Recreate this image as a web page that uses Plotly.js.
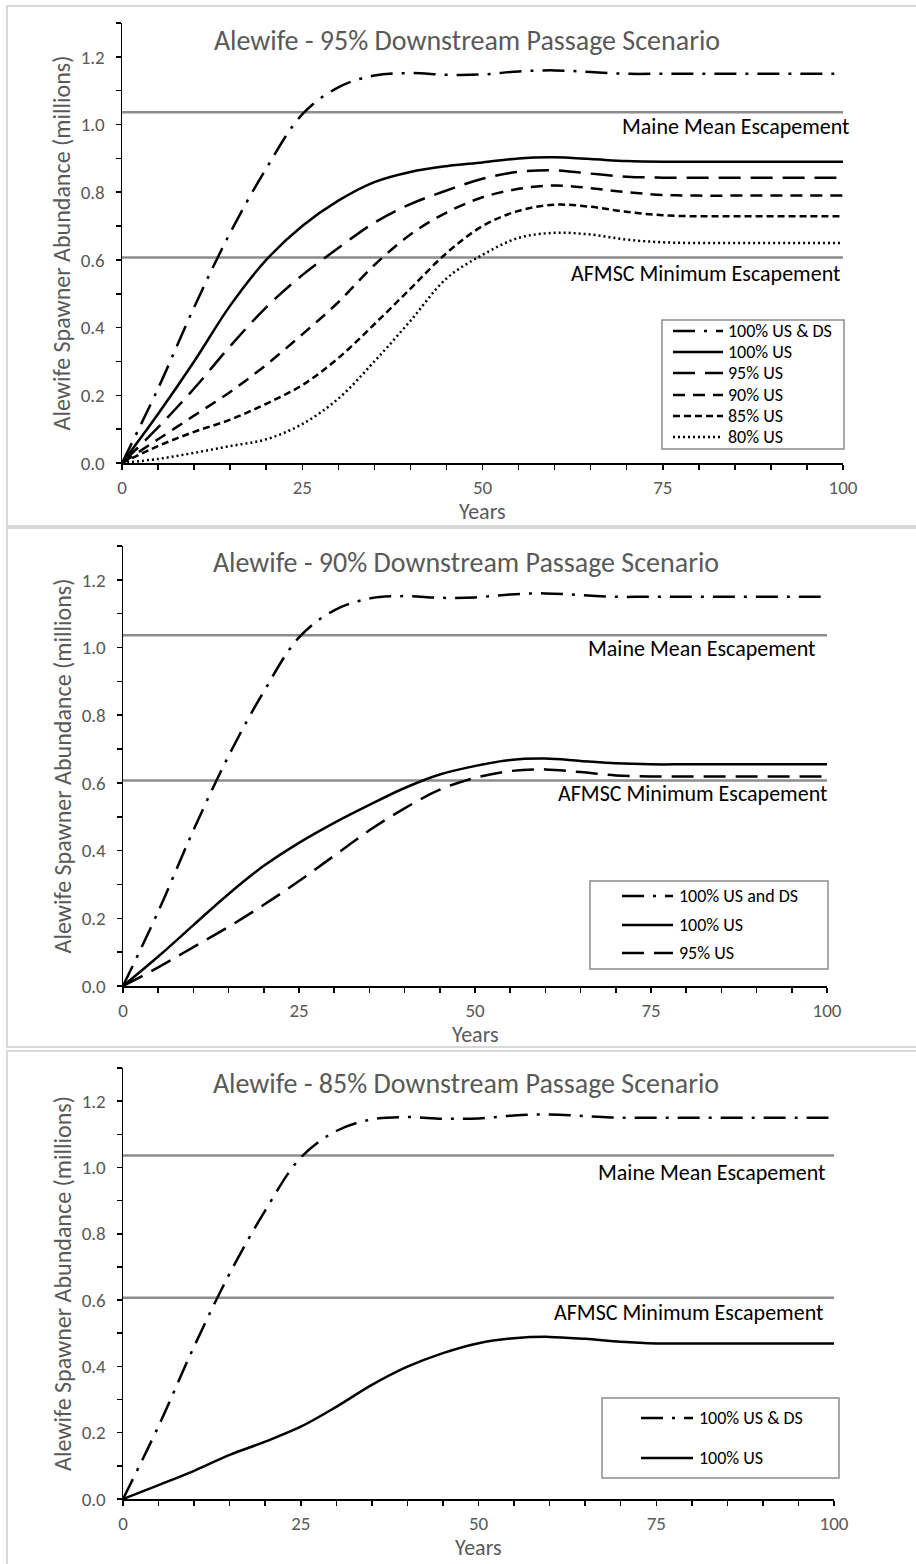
<!DOCTYPE html>
<html><head><meta charset="utf-8">
<script src="https://cdn.plot.ly/plotly-3.0.1.min.js"></script>
<style>
html,body{margin:0;padding:0;background:#fff;}
body{width:916px;height:1564px;overflow:hidden;position:relative;}
.frame{position:absolute;border:2px solid #d9d9d9;box-sizing:border-box;pointer-events:none;z-index:5;}
.plot{position:absolute;left:0;width:916px;}
</style></head><body>
<div class="plot" id="p1" style="top:0px;height:527px"></div>
<div class="plot" id="p2" style="top:527px;height:521px"></div>
<div class="plot" id="p3" style="top:1048px;height:516px"></div>
<div class="frame" style="left:6px;top:5px;width:930px;height:522px"></div>
<div class="frame" style="left:6px;top:527px;width:930px;height:521px"></div>
<div class="frame" style="left:6px;top:1050px;width:930px;height:530px"></div>
<script>
// ---------- DATA ----------
const years = [0,5,10,15,20,25,30,35,40,45,50,55,60,65,70,75,80,85,90,95,100];
const usds   = [0,0.22,0.46,0.68,0.87,1.03,1.11,1.145,1.152,1.147,1.148,1.157,1.16,1.155,1.15,1.15,1.15,1.15,1.15,1.15,1.15];
const p1us100 = [0,0.145,0.3,0.465,0.6,0.7,0.775,0.83,0.86,0.877,0.888,0.9,0.903,0.898,0.892,0.89,0.89,0.89,0.89,0.89,0.89];
const p1us95  = [0,0.105,0.22,0.345,0.46,0.555,0.635,0.71,0.765,0.805,0.84,0.86,0.865,0.855,0.846,0.843,0.843,0.843,0.843,0.843,0.843];
const p1us90  = [0,0.07,0.14,0.21,0.29,0.38,0.475,0.585,0.675,0.74,0.785,0.81,0.82,0.812,0.8,0.792,0.79,0.79,0.79,0.79,0.79];
const p1us85  = [0,0.05,0.092,0.128,0.175,0.23,0.31,0.41,0.515,0.62,0.7,0.745,0.763,0.757,0.742,0.732,0.729,0.729,0.729,0.729,0.729];
const p1us80  = [0,0.012,0.03,0.05,0.07,0.115,0.19,0.3,0.42,0.545,0.615,0.665,0.68,0.675,0.66,0.652,0.65,0.65,0.65,0.65,0.65];
const p2us100 = [0,0.087,0.18,0.272,0.355,0.423,0.482,0.535,0.585,0.625,0.65,0.668,0.672,0.665,0.658,0.655,0.655,0.655,0.655,0.655,0.655];
const p2us95  = [0,0.055,0.115,0.175,0.24,0.31,0.385,0.46,0.525,0.58,0.615,0.635,0.64,0.632,0.622,0.619,0.619,0.619,0.619,0.619,0.619];
const p3us100 = [0,0.042,0.085,0.133,0.173,0.218,0.278,0.344,0.399,0.44,0.47,0.485,0.489,0.483,0.474,0.469,0.469,0.469,0.469,0.469,0.469];
const refYears = [0,100];
const maineMean = 1.036;
const afmscMin = 0.607;
const refNames = ['Maine Mean Escapement','AFMSC Minimum Escapement'];
const titles = ['Alewife - 95% Downstream Passage Scenario','Alewife - 90% Downstream Passage Scenario','Alewife - 85% Downstream Passage Scenario'];
const xTitle = 'Years';
const yTitle = 'Alewife Spawner Abundance (millions)';

// ---------- STYLE ----------
const FONT = 'Carlito, Calibri, Lato, sans-serif';
const GREY = '#595959';
const DASH = {
  dashdot: '22px,9px,3px,9px',
  solid: 'solid',
  d95: '22px,10px',
  d90: '12px,8px',
  d85: '7px,4px',
  d80: '2px,3px'
};

function buildPanel(id, cfg){
  const W = 916, H = cfg.H, m = cfg.m;
  const pw = W - m.l - m.r, ph = H - m.t - m.b;
  const px = x => (x - m.l)/pw;
  const py = y => 1 - ((y - cfg.top) - m.t)/ph;
  const traces = cfg.series.map(s => ({
    type:'scatter', mode:'lines', x: years, y: s.y, name: s.name,
    line:{color:'#000', width:2.5, dash:s.dash, shape:'spline', smoothing:1},
    showlegend:false, hoverinfo:'skip'
  }));
  traces.unshift(
    {type:'scatter', mode:'lines', x: refYears, y:[maineMean,maineMean], name:refNames[0],
     line:{color:'#8c8c8c', width:2.5}, showlegend:false, hoverinfo:'skip'},
    {type:'scatter', mode:'lines', x: refYears, y:[afmscMin,afmscMin], name:refNames[1],
     line:{color:'#8c8c8c', width:2.5}, showlegend:false, hoverinfo:'skip'}
  );
  const shapes = [], annotations = [];
  // legend
  const L = cfg.legend;
  shapes.push({type:'rect', xref:'paper', yref:'paper', x0:px(L.x0), x1:px(L.x1), y0:py(L.y0), y1:py(L.y1),
    line:{color:'#8c8c8c', width:1.5}, fillcolor:'rgba(255,255,255,0)'});
  cfg.series.forEach((s,i)=>{
    const yy = py(L.rows[i]);
    shapes.push({type:'line', xref:'paper', yref:'paper', x0:px(L.s0), x1:px(L.s1), y0:yy, y1:yy,
      line:{color:'#000', width:2.5, dash:s.dash}});
    annotations.push({xref:'paper', yref:'paper', x:px(L.t0), y:yy, xanchor:'left', yanchor:'middle',
      text:s.name, showarrow:false, font:{family:FONT, size:L.fs, color:'#000'}});
  });
  // reference labels
  annotations.push({xref:'paper', yref:'paper', x:px(cfg.lab.mx), y:py(cfg.lab.my), xanchor:'right', yanchor:'middle',
    text:refNames[0], showarrow:false, font:{family:FONT, size:cfg.lab.fs, color:'#000'}});
  annotations.push({xref:'paper', yref:'paper', x:px(cfg.lab.ax), y:py(cfg.lab.ay), xanchor:'right', yanchor:'middle',
    text:refNames[1], showarrow:false, font:{family:FONT, size:cfg.lab.fs, color:'#000'}});
  // x-axis title
  annotations.push({xref:'paper', yref:'paper', x:0.5, y:py(cfg.xt), xanchor:'center', yanchor:'middle',
    text:xTitle, showarrow:false, font:{family:FONT, size:22, color:GREY}});
  const layout = {
    width:W, height:H, margin:m,
    paper_bgcolor:'rgba(0,0,0,0)', plot_bgcolor:'rgba(0,0,0,0)',
    font:{family:FONT, color:GREY},
    title:{text:cfg.title, x:cfg.tx/W, xanchor:'center', xref:'container', y:1-(cfg.ty-cfg.top)/H, yref:'container', yanchor:'middle',
      font:{family:FONT, size:28, color:GREY}},
    showlegend:false,
    xaxis:{range:[0,100], tick0:0, dtick:25, ticks:'outside', ticklen:5, tickwidth:1.5, tickcolor:'#000',
      showline:true, linecolor:'#000', linewidth:1.5, showgrid:false, zeroline:false,
      minor:{dtick:5, tick0:0, ticks:'outside', ticklen:5, tickwidth:1.5, tickcolor:'#000', showgrid:false},
      tickfont:{family:FONT, size:19, color:GREY}, ticklabelstandoff:2, fixedrange:true},
    yaxis:{range:[0,1.3], tick0:0, dtick:0.2, tickformat:'.1f', ticks:'outside', ticklen:5, tickwidth:1.5, tickcolor:'#000',
      showline:true, linecolor:'#000', linewidth:1.5, showgrid:false, zeroline:false,
      minor:{dtick:0.1, tick0:0, ticks:'outside', ticklen:5, tickwidth:1.5, tickcolor:'#000', showgrid:false},
      tickfont:{family:FONT, size:19, color:GREY}, ticklabelstandoff:7,
      title:{text:yTitle, font:{family:FONT, size:24, color:GREY}, standoff:3}, fixedrange:true},
    shapes:shapes, annotations:annotations
  };
  Plotly.newPlot(id, traces, layout, {staticPlot:true, displayModeBar:false});
}

buildPanel('p1', {
  top:0, H:527, m:{l:122, r:73, t:23, b:64, pad:0}, title:titles[0], tx:467, ty:40, xt:511,
  series:[
    {name:'100% US & DS', y:usds, dash:DASH.dashdot},
    {name:'100% US', y:p1us100, dash:DASH.solid},
    {name:'95% US', y:p1us95, dash:DASH.d95},
    {name:'90% US', y:p1us90, dash:DASH.d90},
    {name:'85% US', y:p1us85, dash:DASH.d85},
    {name:'80% US', y:p1us80, dash:DASH.d80}
  ],
  legend:{x0:662, x1:844, y0:320, y1:449, s0:673, s1:723, t0:726, fs:18, rows:[331,352,373,395,416,437]},
  lab:{mx:851, my:127, ax:842, ay:273, fs:22}
});
buildPanel('p2', {
  top:527, H:521, m:{l:123, r:89, t:19, b:62, pad:0}, title:titles[1], tx:466, ty:562, xt:1034,
  series:[
    {name:'100% US and DS', y:usds, dash:DASH.dashdot},
    {name:'100% US', y:p2us100, dash:DASH.solid},
    {name:'95% US', y:p2us95, dash:DASH.d95}
  ],
  legend:{x0:590, x1:828, y0:881, y1:969, s0:622, s1:673, t0:677, fs:18, rows:[896,925,953]},
  lab:{mx:817, my:648, ax:829, ay:793, fs:22}
});
buildPanel('p3', {
  top:1048, H:516, m:{l:123, r:82, t:20, b:65, pad:0}, title:titles[2], tx:466, ty:1083, xt:1547,
  series:[
    {name:'100% US & DS', y:usds, dash:DASH.dashdot},
    {name:'100% US', y:p3us100, dash:DASH.solid}
  ],
  legend:{x0:602, x1:839, y0:1398, y1:1478, s0:641, s1:693, t0:697, fs:18, rows:[1418,1458]},
  lab:{mx:827, my:1172, ax:825, ay:1312, fs:22}
});
</script>
</body></html>
